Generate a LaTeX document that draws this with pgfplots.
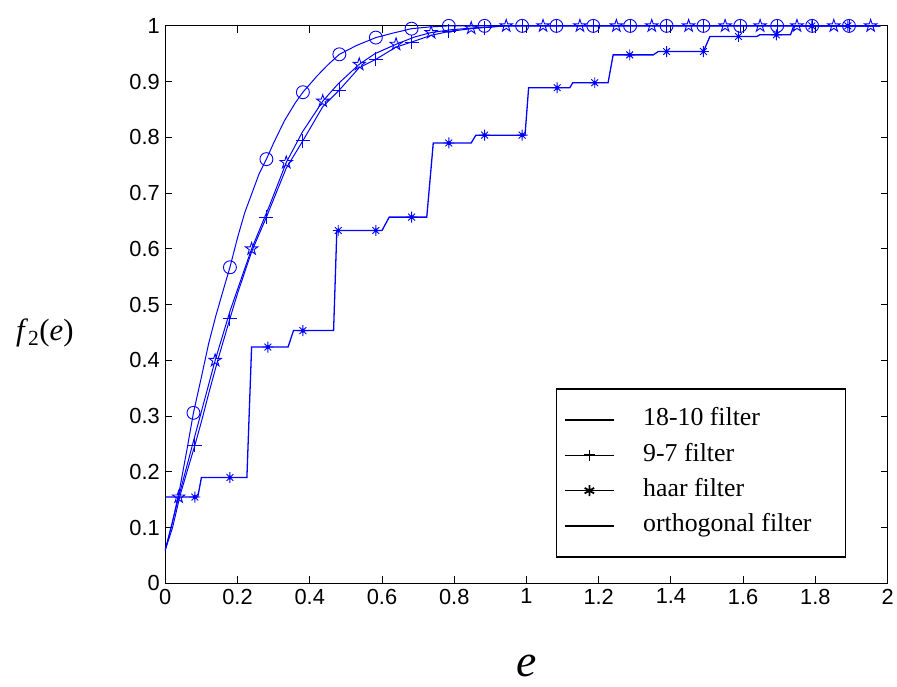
\documentclass[border=0pt]{standalone}
\usepackage{fontspec}
\setmainfont{Liberation Serif}
\newfontfamily\tickfont{Liberation Sans}
\usepackage{pgfplots}
\pgfplotsset{compat=1.18}
\pgfdeclareplotmark{pentagram}{%
  \pgfpathmoveto{\pgfpointpolar{90}{\pgfplotmarksize}}%
  \pgfpathlineto{\pgfpointpolar{126}{0.382\pgfplotmarksize}}%
  \pgfpathlineto{\pgfpointpolar{162}{\pgfplotmarksize}}%
  \pgfpathlineto{\pgfpointpolar{198}{0.382\pgfplotmarksize}}%
  \pgfpathlineto{\pgfpointpolar{234}{\pgfplotmarksize}}%
  \pgfpathlineto{\pgfpointpolar{270}{0.382\pgfplotmarksize}}%
  \pgfpathlineto{\pgfpointpolar{306}{\pgfplotmarksize}}%
  \pgfpathlineto{\pgfpointpolar{342}{0.382\pgfplotmarksize}}%
  \pgfpathlineto{\pgfpointpolar{18}{\pgfplotmarksize}}%
  \pgfpathlineto{\pgfpointpolar{54}{0.382\pgfplotmarksize}}%
  \pgfpathclose\pgfusepathqstroke}
\pgfdeclareplotmark{ast8}{%
  \pgfpathmoveto{\pgfpoint{-\pgfplotmarksize}{0pt}}\pgfpathlineto{\pgfpoint{\pgfplotmarksize}{0pt}}%
  \pgfpathmoveto{\pgfpoint{0pt}{-\pgfplotmarksize}}\pgfpathlineto{\pgfpoint{0pt}{\pgfplotmarksize}}%
  \pgfpathmoveto{\pgfpoint{-0.62\pgfplotmarksize}{-0.62\pgfplotmarksize}}\pgfpathlineto{\pgfpoint{0.62\pgfplotmarksize}{0.62\pgfplotmarksize}}%
  \pgfpathmoveto{\pgfpoint{-0.62\pgfplotmarksize}{0.62\pgfplotmarksize}}\pgfpathlineto{\pgfpoint{0.62\pgfplotmarksize}{-0.62\pgfplotmarksize}}%
  \pgfusepathqstroke
  \pgfpathcircle{\pgfpointorigin}{0.3\pgfplotmarksize}\pgfusepathqfillstroke}
\definecolor{mblue}{RGB}{0,0,255}
\begin{document}
\begin{tikzpicture}
\path (-166bp,-103bp) rectangle (731bp,586bp);
\begin{axis}[
  at={(0,0)}, anchor=south west,
  scale only axis, width=725.5bp, height=560bp,
  xmin=0, xmax=2, ymin=0, ymax=1,
  xtick={0,0.2,0.4,0.6,0.8,1,1.2,1.4,1.6,1.8,2},
  xticklabels={0,0.2,0.4,0.6,0.8,1,1.2,1.4,1.6,1.8,2},
  ytick={0,0.1,0.2,0.3,0.4,0.5,0.6,0.7,0.8,0.9,1},
  yticklabels={0,0.1,0.2,0.3,0.4,0.5,0.6,0.7,0.8,0.9,1},
  tick align=inside, xtick pos=both, ytick pos=both,
  major tick length=7bp,
  tick style={black, line width=0.9bp},
  axis line style={black, line width=0.9bp},
  tick label style={font=\tickfont\fontsize{22}{22}\selectfont},
  xticklabel style={yshift=-2bp},
  yticklabel style={xshift=-2bp},
  clip=false,
  legend cell align=left,
  legend style={at={(rel axis cs:0.5405,0.35)}, anchor=north west,
    draw=black, line width=1.6bp, fill=white,
    font=\fontsize{26}{26}\selectfont,
    inner xsep=8bp, inner ysep=19bp, row sep=11.5bp,
    nodes={inner sep=0bp, text height=18bp, text depth=6bp},
    /tikz/every odd column/.append style={column sep=29bp}},
  legend image code/.code={\draw[#1, line width=1.1bp] (0bp,0bp) -- (24.5bp,0bp) -- (49bp,0bp);
     \path[#1,mark repeat=1] plot coordinates {(24.5bp,0bp)};},
]
% 18-10 filter (circles)
\addplot[mblue, line width=1bp, forget plot] coordinates {
(0,0.06) (0.02,0.11) (0.04,0.17) (0.06,0.24) (0.078,0.306) (0.1,0.37) (0.12,0.43) (0.14,0.48) (0.16,0.525) (0.179,0.567) (0.2,0.62) (0.22,0.665) (0.24,0.70) (0.26,0.735) (0.28,0.761) (0.3,0.79) (0.33,0.83) (0.36,0.862) (0.381,0.881) (0.42,0.91) (0.45,0.93) (0.482,0.949) (0.53,0.965) (0.583,0.979) (0.63,0.987) (0.682,0.995) (0.73,0.998) (0.785,1) (1.98,1)};
\addplot[mblue, only marks, mark=o, mark size=6.5bp, line width=0.9bp, forget plot] coordinates {
(0.078,0.306) (0.179,0.567) (0.28,0.761) (0.381,0.881) (0.482,0.949) (0.583,0.979) (0.682,0.995) (0.785,1) (0.884,1) (0.988,1) (1.083,1) (1.185,1) (1.287,1) (1.388,1) (1.49,1) (1.592,1) (1.694,1) (1.791,1) (1.893,1)};
% 9-7 filter (plus)
\addplot[mblue, line width=1bp, forget plot] coordinates {
(0,0.06) (0.02,0.1) (0.041,0.158) (0.06,0.2) (0.082,0.248) (0.1,0.29) (0.12,0.34) (0.146,0.402) (0.179,0.475) (0.2,0.52) (0.239,0.595) (0.28,0.657) (0.335,0.745) (0.381,0.794) (0.436,0.855) (0.482,0.885) (0.537,0.925) (0.583,0.94) (0.639,0.962) (0.682,0.971) (0.736,0.983) (0.785,0.99) (0.847,0.995) (0.884,0.997) (0.944,1) (1.98,1)};
\addplot[mblue, only marks, mark=+, mark size=7bp, line width=0.9bp, forget plot] coordinates {
(0.082,0.248) (0.179,0.475) (0.28,0.657) (0.381,0.794) (0.482,0.885) (0.583,0.94) (0.682,0.971) (0.785,0.99) (0.884,0.997) (0.988,1) (1.083,1) (1.185,1) (1.287,1) (1.388,1) (1.49,1) (1.592,1) (1.694,1) (1.791,1) (1.893,1)};
% orthogonal filter (pentagram)
\addplot[mblue, line width=1bp, forget plot] coordinates {
(0,0.06) (0.037,0.155) (0.08,0.26) (0.138,0.40) (0.18,0.49) (0.239,0.6) (0.29,0.68) (0.335,0.755) (0.38,0.81) (0.436,0.865) (0.48,0.897) (0.537,0.931) (0.58,0.95) (0.639,0.967) (0.69,0.98) (0.736,0.988) (0.79,0.993) (0.847,0.996) (0.944,1) (1.98,1)};
\addplot[mblue, only marks, mark=pentagram, mark size=6.5bp, line width=0.9bp, forget plot] coordinates {
(0.037,0.155) (0.138,0.40) (0.239,0.6) (0.335,0.755) (0.436,0.865) (0.537,0.931) (0.639,0.967) (0.736,0.988) (0.847,0.996) (0.944,1) (1.046,1) (1.148,1) (1.249,1) (1.347,1) (1.449,1) (1.55,1) (1.647,1) (1.749,1) (1.851,1) (1.953,1)};
% haar filter (asterisks, staircase)
\addplot[mblue, line width=1.3bp, forget plot] coordinates {
(0,0.155) (0.09,0.155) (0.10,0.19) (0.226,0.19) (0.239,0.424) (0.34,0.424) (0.355,0.4535) (0.466,0.4535) (0.475,0.633) (0.6,0.633) (0.62,0.657) (0.724,0.657) (0.742,0.79) (0.847,0.79) (0.86,0.804) (0.996,0.804) (1.006,0.889) (1.12,0.889) (1.128,0.898) (1.226,0.898) (1.24,0.948) (1.351,0.948) (1.365,0.954) (1.49,0.954) (1.508,0.981) (1.638,0.981) (1.646,0.984) (1.731,0.984) (1.74,1) (1.98,1)};
\addplot[mblue, only marks, mark=ast8, mark size=5.5bp, line width=0.9bp, forget plot] coordinates {
(0.082,0.155) (0.179,0.19) (0.284,0.424) (0.381,0.4535) (0.479,0.633) (0.583,0.633) (0.682,0.657) (0.785,0.79) (0.884,0.804) (0.988,0.804) (1.085,0.889) (1.189,0.898) (1.286,0.948) (1.388,0.954) (1.49,0.954) (1.587,0.981) (1.692,0.984) (1.79,1) (1.89,1)};
% legend
\addlegendimage{black, mark=none}
\addlegendentry{18-10 filter}
\addlegendimage{black, mark=+, mark size=5.5bp, mark options={line width=1.8bp}}
\addlegendentry{9-7 filter}
\addlegendimage{black, mark=asterisk, mark size=5.5bp, mark options={line width=1.8bp}}
\addlegendentry{haar filter}
\addlegendimage{black, mark=none}
\addlegendentry{orthogonal filter\hspace*{26bp}}
\node[font=\fontsize{31}{31}\selectfont, anchor=center, inner sep=0pt] at (rel axis cs:0,0.45) [xshift=-121bp] {\textit{f}\textsubscript{2}(\textit{e})};
\node[font=\fontsize{46}{46}\selectfont\itshape, anchor=base, inner sep=0pt] at (rel axis cs:0.5,0) [yshift=-93bp] {e};
\end{axis}
\end{tikzpicture}
\end{document}
